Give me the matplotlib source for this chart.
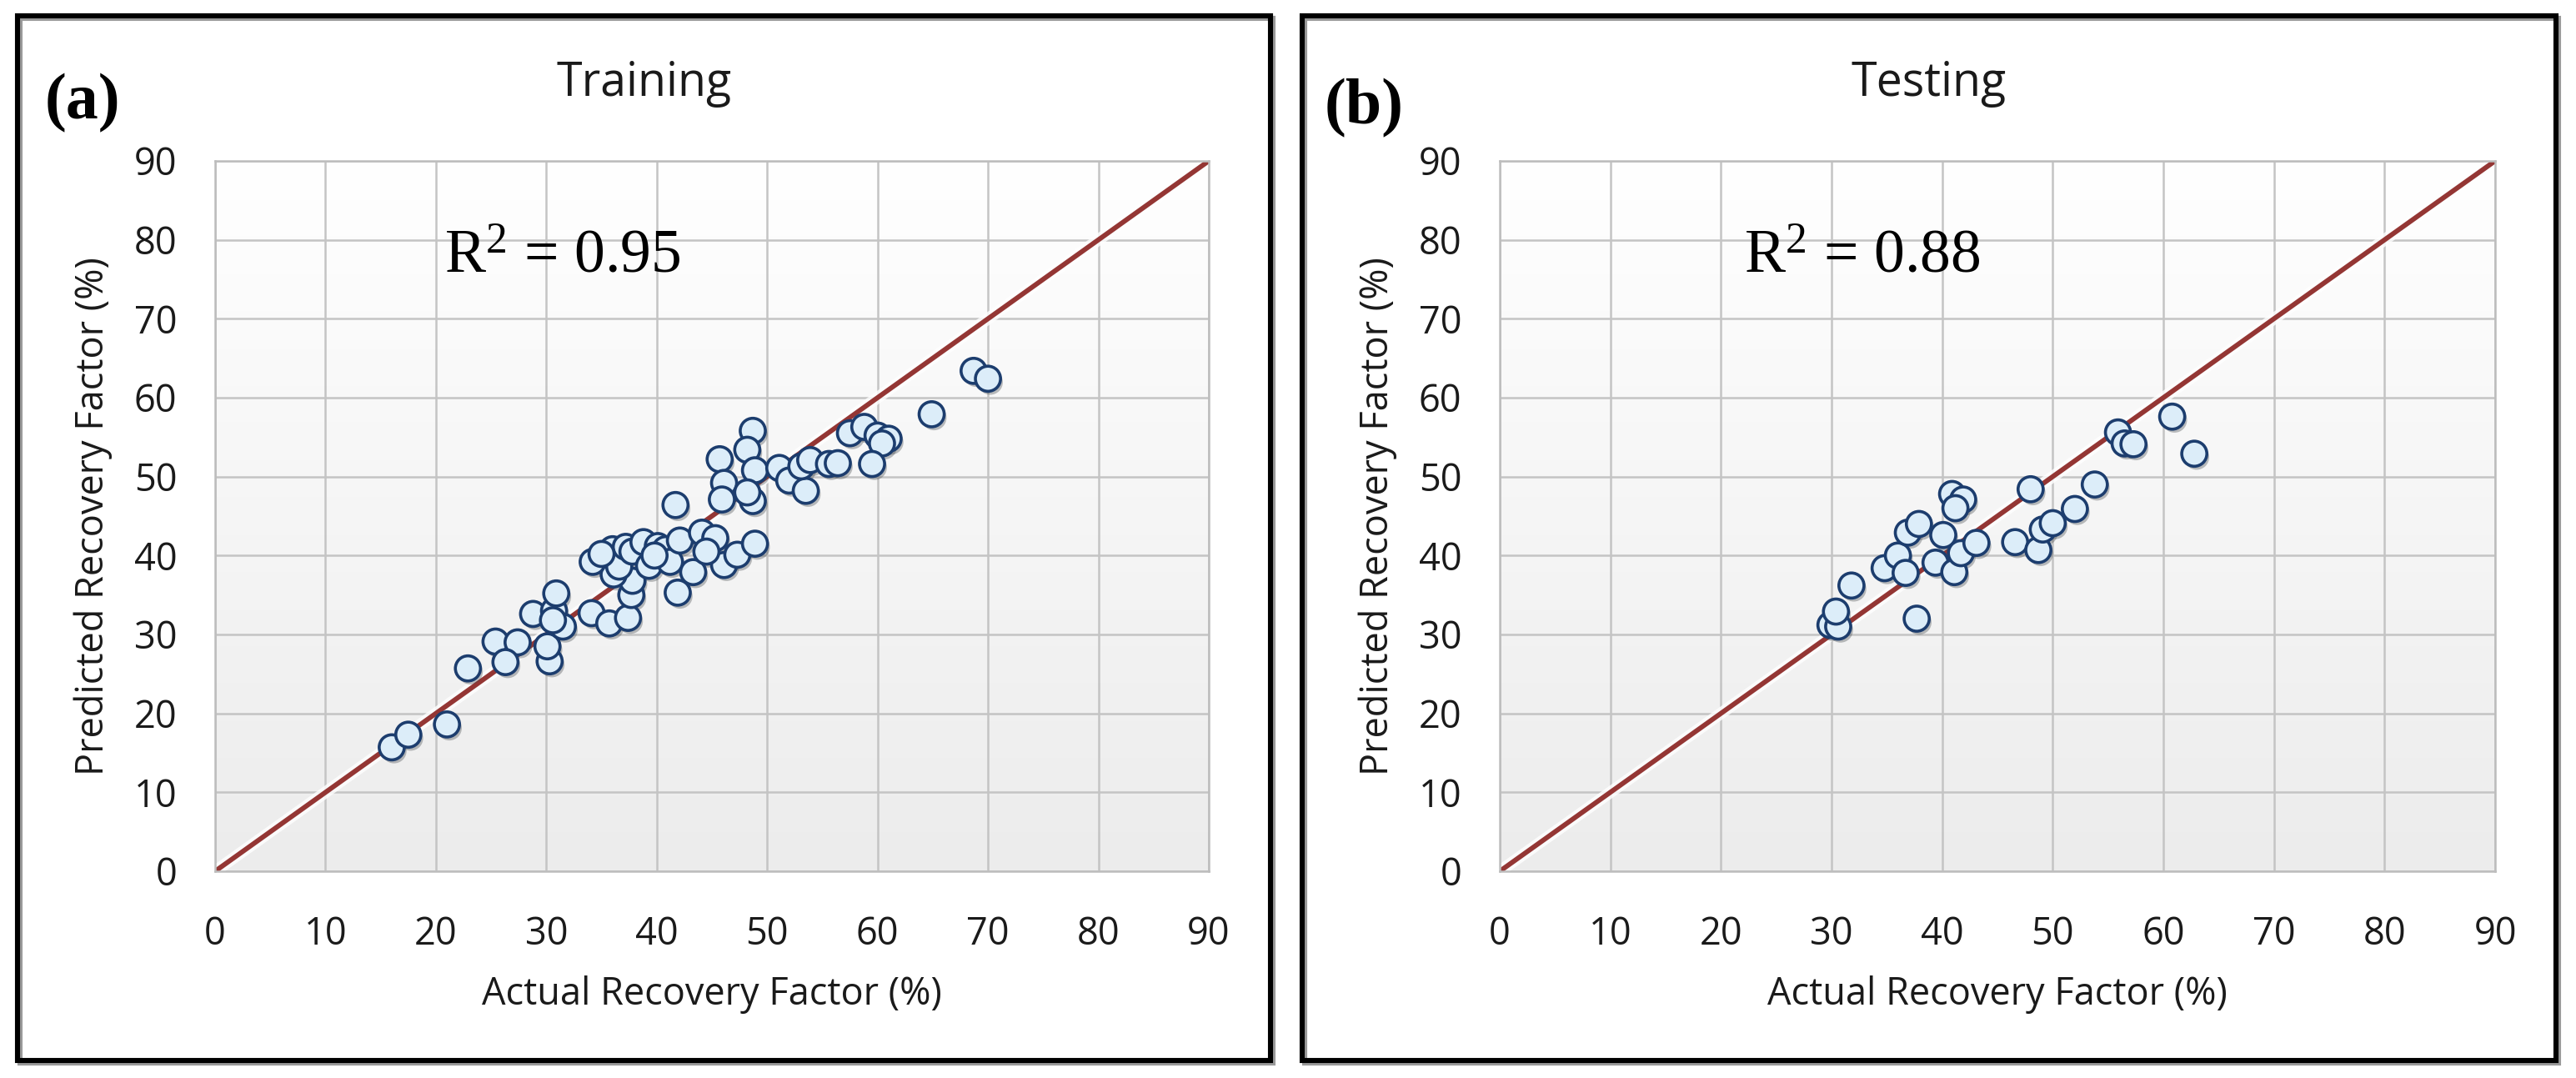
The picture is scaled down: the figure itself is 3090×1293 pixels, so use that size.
import matplotlib
matplotlib.use("Agg")
import matplotlib.pyplot as plt
import matplotlib.patheffects as pe
from matplotlib.colors import LinearSegmentedColormap
from matplotlib.patches import Rectangle
import numpy as np

# Training set: actual vs predicted recovery factor (%)
train_actual = [16.0, 17.5, 21.0, 22.9, 25.4, 27.4, 26.3, 28.8, 30.7, 30.9, 30.3, 30.1,
                31.5, 30.6, 34.1, 35.7, 37.4, 37.7, 37.8, 36.1, 34.2, 36.0, 36.6, 37.2,
                37.8, 38.8, 39.3, 40.1, 40.8, 41.2, 42.1, 41.9, 43.3, 44.1, 45.3, 46.1,
                47.3, 48.9, 35.0, 39.8, 44.5, 41.7, 45.7, 48.7, 48.2, 48.9, 46.1, 45.9,
                48.7, 48.2, 51.1, 52.0, 53.5, 53.1, 53.9, 55.6, 56.4, 57.5, 58.8, 60.0,
                61.0, 60.4, 59.5, 64.9, 68.7, 70.0]
train_pred = [15.7, 17.3, 18.6, 25.7, 29.1, 29.0, 26.5, 32.6, 33.0, 35.2, 26.6, 28.5,
              31.0, 31.8, 32.7, 31.4, 32.1, 35.0, 36.8, 37.6, 39.2, 40.8, 38.6, 41.1,
              40.5, 41.7, 38.7, 41.2, 40.8, 39.2, 41.9, 35.3, 37.9, 42.9, 42.2, 38.8,
              40.1, 41.5, 40.2, 40.0, 40.5, 46.4, 52.2, 55.8, 53.4, 50.8, 49.2, 47.1,
              46.9, 48.0, 51.1, 49.5, 48.2, 51.3, 52.1, 51.6, 51.7, 55.5, 56.3, 55.2,
              54.8, 54.2, 51.6, 57.9, 63.4, 62.4]

# Testing set
test_actual = [29.9, 30.6, 30.4, 31.8, 34.8, 36.0, 36.7, 36.9, 37.9, 37.7, 39.4, 40.1,
               41.1, 41.7, 43.1, 40.9, 41.9, 41.2, 46.6, 48.7, 49.1, 50.0, 52.0, 53.8,
               48.0, 55.9, 56.5, 57.3, 60.8, 62.8]
test_pred = [31.2, 31.0, 32.9, 36.2, 38.4, 40.0, 37.8, 42.9, 44.0, 32.0, 39.1, 42.6,
             37.9, 40.3, 41.6, 47.8, 47.1, 46.0, 41.7, 40.7, 43.3, 44.1, 45.9, 49.0,
             48.4, 55.6, 54.2, 54.1, 57.6, 52.9]

ticks = list(range(0, 100, 10))
panels = [
    ("(a)", "Training", r"R$^{2}$ = 0.95", train_actual, train_pred),
    ("(b)", "Testing", r"R$^{2}$ = 0.88", test_actual, test_pred),
]

plt.rcParams["mathtext.fontset"] = "custom"
plt.rcParams["mathtext.rm"] = "Liberation Serif"
plt.rcParams["mathtext.it"] = "Liberation Serif"

W, H = 3090, 1293
fig = plt.figure(figsize=(W / 100, H / 100), dpi=100)
fig.patch.set_facecolor("white")

sans = ["Open Sans", "DejaVu Sans"]
serif = ["Liberation Serif", "DejaVu Serif"]

# pixel layout of each panel: frame box, axes box, title centre, tag, R2 x position
layout = [
    dict(frame=(21, 19, 1524, 1272), axes=(258, 193, 1450, 1045), title_x=773, tag=(54, 142), r2_x=20.8),
    dict(frame=(1562, 19, 3066, 1272), axes=(1799, 193, 2993, 1045), title_x=2314, tag=(1589, 148), r2_x=22.1),
]

grad = LinearSegmentedColormap.from_list("plotarea", ["#ececec", "#ffffff"])


def frame_rect(x0, y0, x1, y1, color, lw):
    return Rectangle((x0 / W, 1 - y1 / H), (x1 - x0) / W, (y1 - y0) / H,
                     transform=fig.transFigure, fill=False, edgecolor=color,
                     linewidth=lw, zorder=5)


for (tag, title, r2, xs, ys), lay in zip(panels, layout):
    fx0, fy0, fx1, fy1 = lay["frame"]
    # soft shadow then the black frame
    fig.patches.append(frame_rect(fx0 + 3, fy0 + 3, fx1 + 3, fy1 + 3, "#9a9a9a", 4.4))
    fig.patches.append(frame_rect(fx0, fy0, fx1, fy1, "black", 4.4))

    ax0, ay0, ax1, ay1 = lay["axes"]
    ax = fig.add_axes([ax0 / W, 1 - ay1 / H, (ax1 - ax0) / W, (ay1 - ay0) / H])

    # gradient background of the plot area
    ax.imshow(np.linspace(0, 1, 256).reshape(-1, 1), cmap=grad, origin="lower",
              extent=[0, 90, 0, 90], aspect="auto", zorder=0)

    ax.plot([0, 90], [0, 90], color="#943634", linewidth=4.2, zorder=2,
            solid_capstyle="butt",
            path_effects=[pe.Stroke(linewidth=10, foreground="white", alpha=0.8), pe.Normal()])

    ax.scatter(xs, ys, s=470, facecolor="#dcedf9", edgecolor="#1c3d6e", linewidth=2.6, zorder=3,
               path_effects=[pe.SimplePatchShadow(offset=(2, -3), alpha=0.35), pe.Normal()])

    ax.set_xlim(0, 90)
    ax.set_ylim(0, 90)
    ax.set_xticks(ticks)
    ax.set_yticks(ticks)
    ax.grid(True, color="#c4c4c4", linewidth=1.8)
    ax.set_axisbelow(True)
    for sp in ax.spines.values():
        sp.set_color("#bdbdbd")
        sp.set_linewidth(1.8)
    ax.tick_params(length=0, labelsize=32.5, labelcolor="#1a1a1a")
    ax.tick_params(axis="x", pad=38)
    ax.tick_params(axis="y", pad=33)
    for lab in ax.get_xticklabels() + ax.get_yticklabels():
        lab.set_family(sans)

    ax.set_xlabel("Actual Recovery Factor (%)", fontsize=32.5, family=sans, color="#1a1a1a")
    ax.xaxis.set_label_coords(0.5, -0.147)
    ax.set_ylabel("Predicted Recovery Factor (%)", fontsize=32.5, family=sans, color="#1a1a1a")
    ax.yaxis.set_label_coords(-0.103, 0.5)

    ax.text(lay["r2_x"], 75.9, r2, fontsize=53, family=serif, ha="left", va="baseline",
            color="black", zorder=4)

    fig.text(lay["title_x"] / W, 1 - 115 / H, title, fontsize=40, family=sans,
             ha="center", va="baseline", color="#1a1a1a")
    fig.text(lay["tag"][0] / W, 1 - lay["tag"][1] / H, tag, fontsize=56, family=serif,
             fontweight="bold", ha="left", va="baseline", color="black")

fig.savefig("out.png", dpi=100)
